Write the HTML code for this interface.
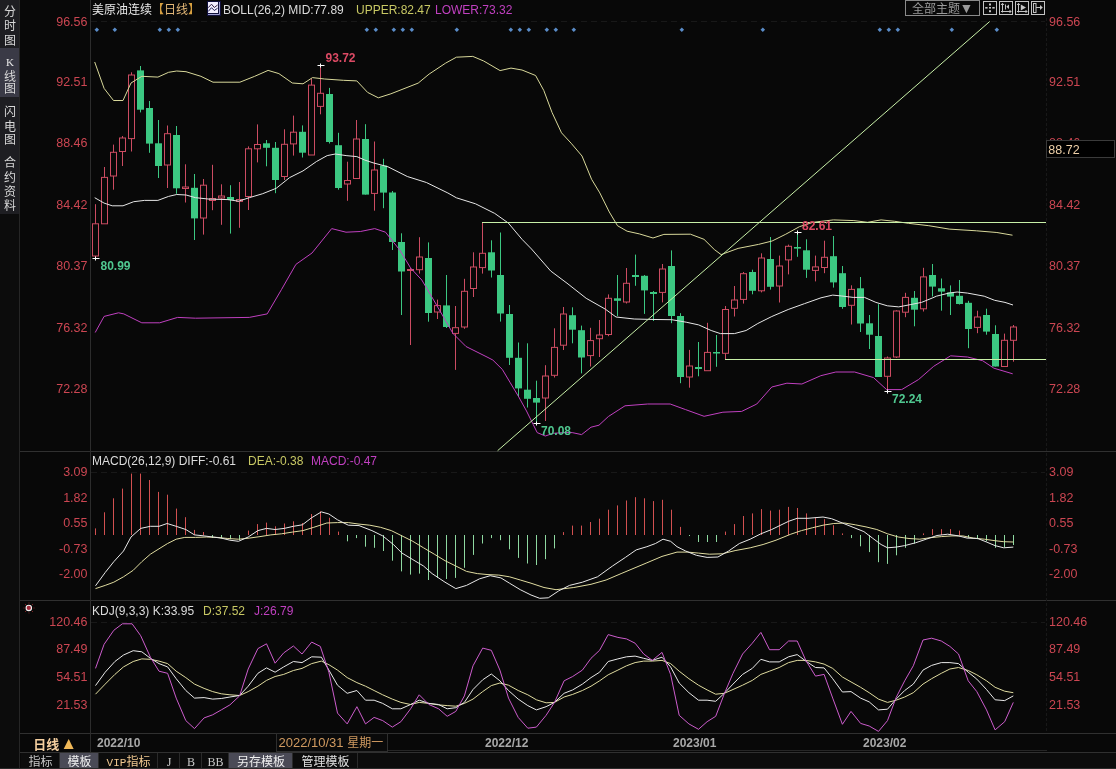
<!DOCTYPE html><html><head><meta charset="utf-8"><title>美原油连续 日线</title><style>html,body{margin:0;padding:0;background:#080808;width:1116px;height:769px;overflow:hidden}svg{display:block}text{font-family:"Liberation Sans","Noto Sans CJK SC",sans-serif}.c{font-family:"Liberation Sans","Noto Sans CJK SC","WenQuanYi Zen Hei",sans-serif}.s{font-family:"Liberation Serif",serif}.m{font-family:"Liberation Mono",monospace}</style></head><body>
<svg width="1116" height="769" viewBox="0 0 1116 769">
<rect x="0" y="0" width="1116" height="769" fill="#080808"/>
<rect x="0" y="0" width="20" height="214" fill="#1e1e22"/>
<rect x="0" y="48" width="20" height="49" fill="#3a3a46"/>
<rect x="0" y="214" width="20" height="555" fill="#0c0c0c"/>
<line x1="19.5" y1="0" x2="19.5" y2="769" stroke="#262626" stroke-width="1"/>
<text class="c" x="10" y="15.7" font-size="12" fill="#d8d8d8" text-anchor="middle">分</text>
<text class="c" x="10" y="30.4" font-size="12" fill="#d8d8d8" text-anchor="middle">时</text>
<text class="c" x="10" y="45.1" font-size="12" fill="#d8d8d8" text-anchor="middle">图</text>
<text x="10" y="66" font-size="11" fill="#e8e8e8" text-anchor="middle" class="s">K</text>
<text class="c" x="10" y="80.5" font-size="12" fill="#d8d8d8" text-anchor="middle">线</text>
<text class="c" x="10" y="93.4" font-size="12" fill="#d8d8d8" text-anchor="middle">图</text>
<text class="c" x="10" y="115.7" font-size="12" fill="#d8d8d8" text-anchor="middle">闪</text>
<text class="c" x="10" y="130.5" font-size="12" fill="#d8d8d8" text-anchor="middle">电</text>
<text class="c" x="10" y="144.2" font-size="12" fill="#d8d8d8" text-anchor="middle">图</text>
<text class="c" x="10" y="167.2" font-size="12" fill="#d8d8d8" text-anchor="middle">合</text>
<text class="c" x="10" y="181.7" font-size="12" fill="#d8d8d8" text-anchor="middle">约</text>
<text class="c" x="10" y="195.7" font-size="12" fill="#d8d8d8" text-anchor="middle">资</text>
<text class="c" x="10" y="210.2" font-size="12" fill="#d8d8d8" text-anchor="middle">料</text>
<line x1="20" y1="451.5" x2="1116" y2="451.5" stroke="#303030"/>
<line x1="20" y1="600.5" x2="1116" y2="600.5" stroke="#303030"/>
<line x1="20" y1="733.5" x2="1116" y2="733.5" stroke="#303030"/>
<line x1="20" y1="752.5" x2="1116" y2="752.5" stroke="#303030"/>
<line x1="388" y1="750.5" x2="1047" y2="750.5" stroke="#262626"/>
<line x1="90.5" y1="0" x2="90.5" y2="752" stroke="#2c2c2c"/>
<line x1="1046.5" y1="18" x2="1046.5" y2="733" stroke="#181818" stroke-dasharray="3,2"/>
<line x1="91" y1="21.5" x2="1045" y2="21.5" stroke="#181818" stroke-dasharray="6,4"/>
<line x1="91" y1="472.5" x2="1045" y2="472.5" stroke="#181818" stroke-dasharray="6,4"/>
<line x1="91" y1="622.5" x2="1045" y2="622.5" stroke="#181818" stroke-dasharray="6,4"/>
<text x="87.5" y="25.6" font-size="12.5" fill="#cc4652" text-anchor="end">96.56</text>
<text x="1049" y="25.6" font-size="12.5" fill="#cc4652" text-anchor="start">96.56</text>
<text x="87.5" y="86.4" font-size="12.5" fill="#cc4652" text-anchor="end">92.51</text>
<text x="1049" y="86.4" font-size="12.5" fill="#cc4652" text-anchor="start">92.51</text>
<text x="87.5" y="147.4" font-size="12.5" fill="#cc4652" text-anchor="end">88.46</text>
<text x="1049" y="147.4" font-size="12.5" fill="#cc4652" text-anchor="start">88.46</text>
<text x="87.5" y="208.9" font-size="12.5" fill="#cc4652" text-anchor="end">84.42</text>
<text x="1049" y="208.9" font-size="12.5" fill="#cc4652" text-anchor="start">84.42</text>
<text x="87.5" y="270.4" font-size="12.5" fill="#cc4652" text-anchor="end">80.37</text>
<text x="1049" y="270.4" font-size="12.5" fill="#cc4652" text-anchor="start">80.37</text>
<text x="87.5" y="331.9" font-size="12.5" fill="#cc4652" text-anchor="end">76.32</text>
<text x="1049" y="331.9" font-size="12.5" fill="#cc4652" text-anchor="start">76.32</text>
<text x="87.5" y="393.4" font-size="12.5" fill="#cc4652" text-anchor="end">72.28</text>
<text x="1049" y="393.4" font-size="12.5" fill="#cc4652" text-anchor="start">72.28</text>
<text x="87.5" y="476.4" font-size="12.5" fill="#cc4652" text-anchor="end">3.09</text>
<text x="1049" y="476.4" font-size="12.5" fill="#cc4652" text-anchor="start">3.09</text>
<text x="87.5" y="502.2" font-size="12.5" fill="#cc4652" text-anchor="end">1.82</text>
<text x="1049" y="502.2" font-size="12.5" fill="#cc4652" text-anchor="start">1.82</text>
<text x="87.5" y="527.4" font-size="12.5" fill="#cc4652" text-anchor="end">0.55</text>
<text x="1049" y="527.4" font-size="12.5" fill="#cc4652" text-anchor="start">0.55</text>
<text x="87.5" y="552.6999999999999" font-size="12.5" fill="#cc4652" text-anchor="end">-0.73</text>
<text x="1049" y="552.6999999999999" font-size="12.5" fill="#cc4652" text-anchor="start">-0.73</text>
<text x="87.5" y="577.9" font-size="12.5" fill="#cc4652" text-anchor="end">-2.00</text>
<text x="1049" y="577.9" font-size="12.5" fill="#cc4652" text-anchor="start">-2.00</text>
<text x="87.5" y="626.4" font-size="12.5" fill="#cc4652" text-anchor="end">120.46</text>
<text x="1049" y="626.4" font-size="12.5" fill="#cc4652" text-anchor="start">120.46</text>
<text x="87.5" y="653.4" font-size="12.5" fill="#cc4652" text-anchor="end">87.49</text>
<text x="1049" y="653.4" font-size="12.5" fill="#cc4652" text-anchor="start">87.49</text>
<text x="87.5" y="681.1" font-size="12.5" fill="#cc4652" text-anchor="end">54.51</text>
<text x="1049" y="681.1" font-size="12.5" fill="#cc4652" text-anchor="start">54.51</text>
<text x="87.5" y="708.6999999999999" font-size="12.5" fill="#cc4652" text-anchor="end">21.53</text>
<text x="1049" y="708.6999999999999" font-size="12.5" fill="#cc4652" text-anchor="start">21.53</text>
<rect x="1046.5" y="140.5" width="68" height="17" fill="#000" stroke="#3a3a3a"/>
<text x="1048.3" y="153.5" font-size="12.5" fill="#eed0a8">88.72</text>
<text class="c" x="92" y="14" font-size="12" fill="#e8e8e8">美原油连续</text>
<text class="c" x="152" y="14" font-size="12" fill="#d8a040">【</text>
<text class="c" x="164" y="14" font-size="12" fill="#e4b878">日线</text>
<text class="c" x="188" y="14" font-size="12" fill="#d8a040">】</text>
<rect x="207" y="1" width="14" height="15" fill="#10103c"/>
<rect x="208" y="2" width="10" height="11" fill="#f2eeff"/>
<polyline points="208.2,7.7 211.5,4.2 214.3,7.5 217.6,5" fill="none" stroke="#302040" stroke-width="1"/>
<polyline points="208.2,11.5 211.5,7.7 214.3,10.5 217.6,8.2" fill="none" stroke="#202050" stroke-width="1"/>
<polyline points="208,14.5 219.5,14.5 219.5,2" fill="none" stroke="#a0a0d0" stroke-width="1"/>
<text x="223" y="14" font-size="12" fill="#dcdcdc">BOLL(26,2)  MID:77.89</text>
<text x="356" y="14" font-size="12" fill="#c8c864">UPPER:82.47</text>
<text x="435" y="14" font-size="12" fill="#c040c0">LOWER:73.32</text>
<rect x="905.5" y="0.5" width="74" height="15" fill="#0a0a0a" stroke="#8a8a8a"/>
<text class="c" x="912" y="13" font-size="12" fill="#9a9a9a">全部主题</text>
<text class="c" x="959.5" y="12.8" font-size="14" fill="#9a9a9a">▼</text>
<rect x="983.5" y="1.5" width="13" height="13" fill="#0a0a0a" stroke="#c4c4c4"/>
<rect x="999.5" y="1.5" width="13" height="13" fill="#0a0a0a" stroke="#c4c4c4"/>
<rect x="1015.5" y="1.5" width="13" height="13" fill="#0a0a0a" stroke="#c4c4c4"/>
<rect x="1031.5" y="1.5" width="13" height="13" fill="#0a0a0a" stroke="#c4c4c4"/>
<rect x="989" y="3.5" width="2" height="2" fill="#c4c4c4"/>
<rect x="989" y="7" width="2" height="1.6" fill="#c4c4c4"/>
<rect x="989" y="10.2" width="2" height="2" fill="#c4c4c4"/>
<rect x="985.2" y="7" width="2.4" height="1.6" fill="#c4c4c4"/>
<rect x="992.3" y="7" width="2.4" height="1.6" fill="#c4c4c4"/>
<line x1="1002.5" y1="3.5" x2="1002.5" y2="12.5" stroke="#c4c4c4"/>
<line x1="1001" y1="11.5" x2="1011" y2="11.5" stroke="#c4c4c4"/>
<polyline points="1001,5 1002.5,3.3 1004,5" fill="none" stroke="#c4c4c4"/>
<polyline points="1009.5,10 1011,11.5 1009.5,13" fill="none" stroke="#c4c4c4"/>
<line x1="1005.5" y1="4.5" x2="1005.5" y2="9.5" stroke="#c4c4c4"/>
<polygon points="1009,4.5 1009,9 1006.3,6.8" fill="#c4c4c4"/>
<line x1="1018.5" y1="3.5" x2="1018.5" y2="12.5" stroke="#c4c4c4"/>
<line x1="1017" y1="11.5" x2="1027" y2="11.5" stroke="#c4c4c4"/>
<polyline points="1017,5 1018.5,3.3 1020,5" fill="none" stroke="#c4c4c4"/>
<polyline points="1025.5,10 1027,11.5 1025.5,13" fill="none" stroke="#c4c4c4"/>
<polygon points="1020.8,4.5 1020.8,10.4 1026,7.5" fill="#c4c4c4"/>
<rect x="1033.5" y="3.5" width="2.5" height="9" fill="none" stroke="#c4c4c4"/>
<line x1="1036" y1="7.5" x2="1042" y2="7.5" stroke="#c4c4c4"/>
<polygon points="1040,5 1042.8,7.5 1040,10" fill="#c4c4c4"/>
<rect x="95.2" y="28.2" width="3.2" height="3.2" fill="#5a8cc8" transform="rotate(45 96.8 29.8)"/>
<rect x="113.2" y="28.2" width="3.2" height="3.2" fill="#5a8cc8" transform="rotate(45 114.8 29.8)"/>
<rect x="158.2" y="28.2" width="3.2" height="3.2" fill="#5a8cc8" transform="rotate(45 159.8 29.8)"/>
<rect x="167.2" y="28.2" width="3.2" height="3.2" fill="#5a8cc8" transform="rotate(45 168.8 29.8)"/>
<rect x="176.2" y="28.2" width="3.2" height="3.2" fill="#5a8cc8" transform="rotate(45 177.8 29.8)"/>
<rect x="365.2" y="28.2" width="3.2" height="3.2" fill="#5a8cc8" transform="rotate(45 366.8 29.8)"/>
<rect x="374.2" y="28.2" width="3.2" height="3.2" fill="#5a8cc8" transform="rotate(45 375.8 29.8)"/>
<rect x="392.2" y="28.2" width="3.2" height="3.2" fill="#5a8cc8" transform="rotate(45 393.8 29.8)"/>
<rect x="401.2" y="28.2" width="3.2" height="3.2" fill="#5a8cc8" transform="rotate(45 402.8 29.8)"/>
<rect x="410.2" y="28.2" width="3.2" height="3.2" fill="#5a8cc8" transform="rotate(45 411.8 29.8)"/>
<rect x="455.2" y="28.2" width="3.2" height="3.2" fill="#5a8cc8" transform="rotate(45 456.8 29.8)"/>
<rect x="509.2" y="28.2" width="3.2" height="3.2" fill="#5a8cc8" transform="rotate(45 510.8 29.8)"/>
<rect x="518.2" y="28.2" width="3.2" height="3.2" fill="#5a8cc8" transform="rotate(45 519.8 29.8)"/>
<rect x="527.2" y="28.2" width="3.2" height="3.2" fill="#5a8cc8" transform="rotate(45 528.8 29.8)"/>
<rect x="545.2" y="28.2" width="3.2" height="3.2" fill="#5a8cc8" transform="rotate(45 546.8 29.8)"/>
<rect x="554.2" y="28.2" width="3.2" height="3.2" fill="#5a8cc8" transform="rotate(45 555.8 29.8)"/>
<rect x="572.2" y="28.2" width="3.2" height="3.2" fill="#5a8cc8" transform="rotate(45 573.8 29.8)"/>
<rect x="680.2" y="28.2" width="3.2" height="3.2" fill="#5a8cc8" transform="rotate(45 681.8 29.8)"/>
<rect x="761.2" y="28.2" width="3.2" height="3.2" fill="#5a8cc8" transform="rotate(45 762.8 29.8)"/>
<rect x="878.2" y="28.2" width="3.2" height="3.2" fill="#5a8cc8" transform="rotate(45 879.8 29.8)"/>
<rect x="887.2" y="28.2" width="3.2" height="3.2" fill="#5a8cc8" transform="rotate(45 888.8 29.8)"/>
<rect x="896.2" y="28.2" width="3.2" height="3.2" fill="#5a8cc8" transform="rotate(45 897.8 29.8)"/>
<rect x="950.2" y="28.2" width="3.2" height="3.2" fill="#5a8cc8" transform="rotate(45 951.8 29.8)"/>
<rect x="995.2" y="28.2" width="3.2" height="3.2" fill="#5a8cc8" transform="rotate(45 996.8 29.8)"/>
<line x1="95.5" y1="204.2" x2="95.5" y2="223.8" stroke="#cc4c62"/>
<line x1="95.5" y1="256.0" x2="95.5" y2="257.0" stroke="#cc4c62"/>
<rect x="92.5" y="223.8" width="6" height="32.2" fill="none" stroke="#cc4c62"/>
<line x1="104.5" y1="167.0" x2="104.5" y2="177.4" stroke="#cc4c62"/>
<rect x="101.5" y="177.4" width="6" height="46.4" fill="none" stroke="#cc4c62"/>
<line x1="113.5" y1="144.6" x2="113.5" y2="152.3" stroke="#cc4c62"/>
<line x1="113.5" y1="176.0" x2="113.5" y2="189.7" stroke="#cc4c62"/>
<rect x="110.5" y="152.3" width="6" height="23.7" fill="none" stroke="#cc4c62"/>
<line x1="122.5" y1="136.0" x2="122.5" y2="138.0" stroke="#cc4c62"/>
<line x1="122.5" y1="151.5" x2="122.5" y2="166.0" stroke="#cc4c62"/>
<rect x="119.5" y="138.0" width="6" height="13.5" fill="none" stroke="#cc4c62"/>
<line x1="131.5" y1="72.3" x2="131.5" y2="75.0" stroke="#cc4c62"/>
<line x1="131.5" y1="138.6" x2="131.5" y2="151.5" stroke="#cc4c62"/>
<rect x="128.5" y="75.0" width="6" height="63.6" fill="none" stroke="#cc4c62"/>
<line x1="140.5" y1="66.0" x2="140.5" y2="112.4" stroke="#3cc882"/>
<rect x="137.0" y="70.4" width="7" height="39.3" fill="#3cc882"/>
<line x1="149.5" y1="101.0" x2="149.5" y2="152.8" stroke="#3cc882"/>
<rect x="146.0" y="108.0" width="7" height="35.6" fill="#3cc882"/>
<line x1="158.5" y1="120.0" x2="158.5" y2="178.0" stroke="#3cc882"/>
<rect x="155.0" y="143.3" width="7" height="22.7" fill="#3cc882"/>
<line x1="167.5" y1="125.5" x2="167.5" y2="133.7" stroke="#cc4c62"/>
<line x1="167.5" y1="165.0" x2="167.5" y2="188.0" stroke="#cc4c62"/>
<rect x="164.5" y="133.7" width="6" height="31.3" fill="none" stroke="#cc4c62"/>
<line x1="176.5" y1="126.0" x2="176.5" y2="193.8" stroke="#3cc882"/>
<rect x="173.0" y="135.0" width="7" height="53.3" fill="#3cc882"/>
<line x1="185.5" y1="164.3" x2="185.5" y2="187.0" stroke="#cc4c62"/>
<line x1="185.5" y1="188.5" x2="185.5" y2="202.5" stroke="#cc4c62"/>
<rect x="182.5" y="187.0" width="6" height="1.5" fill="none" stroke="#cc4c62"/>
<line x1="194.5" y1="174.0" x2="194.5" y2="240.0" stroke="#3cc882"/>
<rect x="191.0" y="187.8" width="7" height="30.6" fill="#3cc882"/>
<line x1="203.5" y1="179.0" x2="203.5" y2="185.2" stroke="#cc4c62"/>
<line x1="203.5" y1="218.0" x2="203.5" y2="234.6" stroke="#cc4c62"/>
<rect x="200.5" y="185.2" width="6" height="32.8" fill="none" stroke="#cc4c62"/>
<line x1="212.5" y1="164.8" x2="212.5" y2="198.5" stroke="#cc4c62"/>
<line x1="212.5" y1="200.5" x2="212.5" y2="210.2" stroke="#cc4c62"/>
<rect x="209.5" y="198.5" width="6" height="2.0" fill="none" stroke="#cc4c62"/>
<line x1="221.5" y1="184.3" x2="221.5" y2="196.0" stroke="#cc4c62"/>
<line x1="221.5" y1="198.0" x2="221.5" y2="224.8" stroke="#cc4c62"/>
<rect x="218.5" y="196.0" width="6" height="2.0" fill="none" stroke="#cc4c62"/>
<line x1="230.5" y1="185.2" x2="230.5" y2="233.6" stroke="#3cc882"/>
<rect x="227.0" y="197.0" width="7" height="3.0" fill="#3cc882"/>
<line x1="239.5" y1="182.0" x2="239.5" y2="199.5" stroke="#cc4c62"/>
<line x1="239.5" y1="201.4" x2="239.5" y2="227.8" stroke="#cc4c62"/>
<rect x="236.5" y="199.5" width="6" height="1.9" fill="none" stroke="#cc4c62"/>
<line x1="248.5" y1="146.4" x2="248.5" y2="148.8" stroke="#cc4c62"/>
<line x1="248.5" y1="196.5" x2="248.5" y2="210.0" stroke="#cc4c62"/>
<rect x="245.5" y="148.8" width="6" height="47.7" fill="none" stroke="#cc4c62"/>
<line x1="257.5" y1="124.4" x2="257.5" y2="144.5" stroke="#cc4c62"/>
<line x1="257.5" y1="148.8" x2="257.5" y2="162.4" stroke="#cc4c62"/>
<rect x="254.5" y="144.5" width="6" height="4.3" fill="none" stroke="#cc4c62"/>
<line x1="266.5" y1="140.0" x2="266.5" y2="166.3" stroke="#3cc882"/>
<rect x="263.0" y="143.3" width="7" height="4.5" fill="#3cc882"/>
<line x1="275.5" y1="142.0" x2="275.5" y2="193.2" stroke="#3cc882"/>
<rect x="272.0" y="147.8" width="7" height="32.2" fill="#3cc882"/>
<line x1="284.5" y1="129.3" x2="284.5" y2="144.3" stroke="#cc4c62"/>
<line x1="284.5" y1="176.5" x2="284.5" y2="180.0" stroke="#cc4c62"/>
<rect x="281.5" y="144.3" width="6" height="32.2" fill="none" stroke="#cc4c62"/>
<line x1="293.5" y1="115.6" x2="293.5" y2="132.2" stroke="#cc4c62"/>
<line x1="293.5" y1="143.9" x2="293.5" y2="155.6" stroke="#cc4c62"/>
<rect x="290.5" y="132.2" width="6" height="11.7" fill="none" stroke="#cc4c62"/>
<line x1="302.5" y1="125.4" x2="302.5" y2="157.5" stroke="#3cc882"/>
<rect x="299.0" y="131.8" width="7" height="20.9" fill="#3cc882"/>
<line x1="311.5" y1="78.5" x2="311.5" y2="85.1" stroke="#cc4c62"/>
<rect x="308.5" y="85.1" width="6" height="69.9" fill="none" stroke="#cc4c62"/>
<line x1="320.5" y1="64.9" x2="320.5" y2="93.3" stroke="#cc4c62"/>
<line x1="320.5" y1="106.4" x2="320.5" y2="114.3" stroke="#cc4c62"/>
<rect x="317.5" y="93.3" width="6" height="13.1" fill="none" stroke="#cc4c62"/>
<line x1="329.5" y1="87.9" x2="329.5" y2="143.5" stroke="#3cc882"/>
<rect x="326.0" y="94.0" width="7" height="48.0" fill="#3cc882"/>
<line x1="338.5" y1="132.8" x2="338.5" y2="189.7" stroke="#3cc882"/>
<rect x="335.0" y="145.2" width="7" height="42.8" fill="#3cc882"/>
<line x1="347.5" y1="161.7" x2="347.5" y2="180.5" stroke="#cc4c62"/>
<line x1="347.5" y1="184.0" x2="347.5" y2="200.8" stroke="#cc4c62"/>
<rect x="344.5" y="180.5" width="6" height="3.5" fill="none" stroke="#cc4c62"/>
<line x1="356.5" y1="120.0" x2="356.5" y2="139.0" stroke="#cc4c62"/>
<rect x="353.5" y="139.0" width="6" height="39.5" fill="none" stroke="#cc4c62"/>
<line x1="365.5" y1="124.2" x2="365.5" y2="194.6" stroke="#3cc882"/>
<rect x="362.0" y="139.0" width="7" height="55.6" fill="#3cc882"/>
<line x1="374.5" y1="141.5" x2="374.5" y2="170.0" stroke="#cc4c62"/>
<line x1="374.5" y1="193.4" x2="374.5" y2="210.7" stroke="#cc4c62"/>
<rect x="371.5" y="170.0" width="6" height="23.4" fill="none" stroke="#cc4c62"/>
<line x1="383.5" y1="158.8" x2="383.5" y2="208.2" stroke="#3cc882"/>
<rect x="380.0" y="165.5" width="7" height="27.1" fill="#3cc882"/>
<line x1="392.5" y1="191.0" x2="392.5" y2="250.0" stroke="#3cc882"/>
<rect x="389.0" y="192.5" width="7" height="49.5" fill="#3cc882"/>
<line x1="401.5" y1="233.3" x2="401.5" y2="315.0" stroke="#3cc882"/>
<rect x="398.0" y="242.0" width="7" height="29.5" fill="#3cc882"/>
<line x1="410.5" y1="268.0" x2="410.5" y2="269.5" stroke="#cc4c62"/>
<line x1="410.5" y1="270.5" x2="410.5" y2="345.0" stroke="#cc4c62"/>
<rect x="407.5" y="269.5" width="6" height="1.0" fill="none" stroke="#cc4c62"/>
<line x1="419.5" y1="237.2" x2="419.5" y2="257.0" stroke="#cc4c62"/>
<line x1="419.5" y1="269.7" x2="419.5" y2="273.6" stroke="#cc4c62"/>
<rect x="416.5" y="257.0" width="6" height="12.7" fill="none" stroke="#cc4c62"/>
<line x1="428.5" y1="242.4" x2="428.5" y2="321.7" stroke="#3cc882"/>
<rect x="425.0" y="258.0" width="7" height="55.0" fill="#3cc882"/>
<line x1="437.5" y1="299.6" x2="437.5" y2="305.6" stroke="#cc4c62"/>
<line x1="437.5" y1="312.0" x2="437.5" y2="319.0" stroke="#cc4c62"/>
<rect x="434.5" y="305.6" width="6" height="6.4" fill="none" stroke="#cc4c62"/>
<line x1="446.5" y1="275.0" x2="446.5" y2="328.0" stroke="#3cc882"/>
<rect x="443.0" y="305.4" width="7" height="21.6" fill="#3cc882"/>
<line x1="455.5" y1="306.0" x2="455.5" y2="327.7" stroke="#cc4c62"/>
<line x1="455.5" y1="333.4" x2="455.5" y2="369.9" stroke="#cc4c62"/>
<rect x="452.5" y="327.7" width="6" height="5.7" fill="none" stroke="#cc4c62"/>
<line x1="464.5" y1="278.8" x2="464.5" y2="291.3" stroke="#cc4c62"/>
<line x1="464.5" y1="327.0" x2="464.5" y2="328.8" stroke="#cc4c62"/>
<rect x="461.5" y="291.3" width="6" height="35.7" fill="none" stroke="#cc4c62"/>
<line x1="473.5" y1="252.3" x2="473.5" y2="267.0" stroke="#cc4c62"/>
<line x1="473.5" y1="288.5" x2="473.5" y2="297.0" stroke="#cc4c62"/>
<rect x="470.5" y="267.0" width="6" height="21.5" fill="none" stroke="#cc4c62"/>
<line x1="482.5" y1="222.0" x2="482.5" y2="253.3" stroke="#cc4c62"/>
<line x1="482.5" y1="267.6" x2="482.5" y2="273.6" stroke="#cc4c62"/>
<rect x="479.5" y="253.3" width="6" height="14.3" fill="none" stroke="#cc4c62"/>
<line x1="491.5" y1="240.3" x2="491.5" y2="277.5" stroke="#3cc882"/>
<rect x="488.0" y="252.3" width="7" height="18.2" fill="#3cc882"/>
<line x1="500.5" y1="232.5" x2="500.5" y2="321.6" stroke="#3cc882"/>
<rect x="497.0" y="275.0" width="7" height="38.5" fill="#3cc882"/>
<line x1="509.5" y1="305.0" x2="509.5" y2="365.0" stroke="#3cc882"/>
<rect x="506.0" y="314.0" width="7" height="43.8" fill="#3cc882"/>
<line x1="518.5" y1="342.5" x2="518.5" y2="397.0" stroke="#3cc882"/>
<rect x="515.0" y="357.8" width="7" height="30.6" fill="#3cc882"/>
<line x1="527.5" y1="343.3" x2="527.5" y2="407.5" stroke="#3cc882"/>
<rect x="524.0" y="389.7" width="7" height="9.1" fill="#3cc882"/>
<line x1="536.5" y1="380.7" x2="536.5" y2="423.5" stroke="#3cc882"/>
<rect x="533.0" y="398.0" width="7" height="4.6" fill="#3cc882"/>
<line x1="545.5" y1="365.2" x2="545.5" y2="376.0" stroke="#cc4c62"/>
<line x1="545.5" y1="398.0" x2="545.5" y2="421.0" stroke="#cc4c62"/>
<rect x="542.5" y="376.0" width="6" height="22.0" fill="none" stroke="#cc4c62"/>
<line x1="554.5" y1="328.3" x2="554.5" y2="347.4" stroke="#cc4c62"/>
<line x1="554.5" y1="375.3" x2="554.5" y2="377.5" stroke="#cc4c62"/>
<rect x="551.5" y="347.4" width="6" height="27.9" fill="none" stroke="#cc4c62"/>
<line x1="563.5" y1="307.0" x2="563.5" y2="314.0" stroke="#cc4c62"/>
<line x1="563.5" y1="345.2" x2="563.5" y2="350.0" stroke="#cc4c62"/>
<rect x="560.5" y="314.0" width="6" height="31.2" fill="none" stroke="#cc4c62"/>
<line x1="572.5" y1="307.3" x2="572.5" y2="343.3" stroke="#3cc882"/>
<rect x="569.0" y="315.2" width="7" height="14.5" fill="#3cc882"/>
<line x1="581.5" y1="325.6" x2="581.5" y2="373.4" stroke="#3cc882"/>
<rect x="578.0" y="330.2" width="7" height="27.3" fill="#3cc882"/>
<line x1="590.5" y1="327.8" x2="590.5" y2="340.6" stroke="#cc4c62"/>
<line x1="590.5" y1="355.6" x2="590.5" y2="366.5" stroke="#cc4c62"/>
<rect x="587.5" y="340.6" width="6" height="15.0" fill="none" stroke="#cc4c62"/>
<line x1="599.5" y1="320.0" x2="599.5" y2="335.0" stroke="#cc4c62"/>
<line x1="599.5" y1="338.7" x2="599.5" y2="357.0" stroke="#cc4c62"/>
<rect x="596.5" y="335.0" width="6" height="3.7" fill="none" stroke="#cc4c62"/>
<line x1="608.5" y1="294.4" x2="608.5" y2="298.3" stroke="#cc4c62"/>
<line x1="608.5" y1="334.5" x2="608.5" y2="336.2" stroke="#cc4c62"/>
<rect x="605.5" y="298.3" width="6" height="36.2" fill="none" stroke="#cc4c62"/>
<line x1="617.5" y1="275.0" x2="617.5" y2="316.0" stroke="#3cc882"/>
<rect x="614.0" y="298.3" width="7" height="2.5" fill="#3cc882"/>
<line x1="626.5" y1="268.0" x2="626.5" y2="283.3" stroke="#cc4c62"/>
<line x1="626.5" y1="302.0" x2="626.5" y2="303.5" stroke="#cc4c62"/>
<rect x="623.5" y="283.3" width="6" height="18.7" fill="none" stroke="#cc4c62"/>
<line x1="635.5" y1="254.6" x2="635.5" y2="285.8" stroke="#3cc882"/>
<rect x="632.0" y="275.0" width="7" height="2.0" fill="#3cc882"/>
<line x1="644.5" y1="275.0" x2="644.5" y2="313.9" stroke="#3cc882"/>
<rect x="641.0" y="275.8" width="7" height="14.6" fill="#3cc882"/>
<line x1="653.5" y1="291.0" x2="653.5" y2="321.0" stroke="#3cc882"/>
<rect x="650.0" y="292.0" width="7" height="2.0" fill="#3cc882"/>
<line x1="662.5" y1="264.0" x2="662.5" y2="269.0" stroke="#cc4c62"/>
<line x1="662.5" y1="292.4" x2="662.5" y2="302.4" stroke="#cc4c62"/>
<rect x="659.5" y="269.0" width="6" height="23.4" fill="none" stroke="#cc4c62"/>
<line x1="671.5" y1="250.4" x2="671.5" y2="323.2" stroke="#3cc882"/>
<rect x="668.0" y="266.0" width="7" height="50.0" fill="#3cc882"/>
<line x1="680.5" y1="313.2" x2="680.5" y2="383.2" stroke="#3cc882"/>
<rect x="677.0" y="316.0" width="7" height="61.0" fill="#3cc882"/>
<line x1="689.5" y1="349.9" x2="689.5" y2="366.0" stroke="#cc4c62"/>
<line x1="689.5" y1="377.0" x2="689.5" y2="387.7" stroke="#cc4c62"/>
<rect x="686.5" y="366.0" width="6" height="11.0" fill="none" stroke="#cc4c62"/>
<line x1="698.5" y1="342.0" x2="698.5" y2="376.3" stroke="#3cc882"/>
<rect x="695.0" y="367.0" width="7" height="2.0" fill="#3cc882"/>
<line x1="707.5" y1="322.8" x2="707.5" y2="352.4" stroke="#cc4c62"/>
<rect x="704.5" y="352.4" width="6" height="18.3" fill="none" stroke="#cc4c62"/>
<line x1="716.5" y1="335.0" x2="716.5" y2="366.8" stroke="#3cc882"/>
<rect x="713.0" y="352.0" width="7" height="1.5" fill="#3cc882"/>
<line x1="725.5" y1="306.0" x2="725.5" y2="309.5" stroke="#cc4c62"/>
<line x1="725.5" y1="353.3" x2="725.5" y2="359.8" stroke="#cc4c62"/>
<rect x="722.5" y="309.5" width="6" height="43.8" fill="none" stroke="#cc4c62"/>
<line x1="734.5" y1="286.0" x2="734.5" y2="300.0" stroke="#cc4c62"/>
<line x1="734.5" y1="308.3" x2="734.5" y2="316.5" stroke="#cc4c62"/>
<rect x="731.5" y="300.0" width="6" height="8.3" fill="none" stroke="#cc4c62"/>
<line x1="743.5" y1="272.0" x2="743.5" y2="273.7" stroke="#cc4c62"/>
<line x1="743.5" y1="299.4" x2="743.5" y2="303.6" stroke="#cc4c62"/>
<rect x="740.5" y="273.7" width="6" height="25.7" fill="none" stroke="#cc4c62"/>
<line x1="752.5" y1="269.7" x2="752.5" y2="294.3" stroke="#3cc882"/>
<rect x="749.0" y="272.0" width="7" height="18.8" fill="#3cc882"/>
<line x1="761.5" y1="253.3" x2="761.5" y2="258.0" stroke="#cc4c62"/>
<line x1="761.5" y1="290.8" x2="761.5" y2="292.4" stroke="#cc4c62"/>
<rect x="758.5" y="258.0" width="6" height="32.8" fill="none" stroke="#cc4c62"/>
<line x1="770.5" y1="237.0" x2="770.5" y2="289.6" stroke="#3cc882"/>
<rect x="767.0" y="259.0" width="7" height="27.8" fill="#3cc882"/>
<line x1="779.5" y1="255.6" x2="779.5" y2="266.0" stroke="#cc4c62"/>
<line x1="779.5" y1="286.0" x2="779.5" y2="302.5" stroke="#cc4c62"/>
<rect x="776.5" y="266.0" width="6" height="20.0" fill="none" stroke="#cc4c62"/>
<line x1="788.5" y1="244.6" x2="788.5" y2="246.3" stroke="#cc4c62"/>
<line x1="788.5" y1="259.9" x2="788.5" y2="274.4" stroke="#cc4c62"/>
<rect x="785.5" y="246.3" width="6" height="13.6" fill="none" stroke="#cc4c62"/>
<line x1="797.5" y1="232.2" x2="797.5" y2="256.8" stroke="#3cc882"/>
<rect x="794.0" y="247.0" width="7" height="1.6" fill="#3cc882"/>
<line x1="806.5" y1="239.3" x2="806.5" y2="277.9" stroke="#3cc882"/>
<rect x="803.0" y="250.3" width="7" height="19.4" fill="#3cc882"/>
<line x1="815.5" y1="255.6" x2="815.5" y2="266.9" stroke="#cc4c62"/>
<line x1="815.5" y1="270.4" x2="815.5" y2="281.4" stroke="#cc4c62"/>
<rect x="812.5" y="266.9" width="6" height="3.5" fill="none" stroke="#cc4c62"/>
<line x1="824.5" y1="240.7" x2="824.5" y2="257.3" stroke="#cc4c62"/>
<line x1="824.5" y1="267.5" x2="824.5" y2="273.2" stroke="#cc4c62"/>
<rect x="821.5" y="257.3" width="6" height="10.2" fill="none" stroke="#cc4c62"/>
<line x1="833.5" y1="236.0" x2="833.5" y2="287.6" stroke="#3cc882"/>
<rect x="830.0" y="256.2" width="7" height="26.2" fill="#3cc882"/>
<line x1="842.5" y1="266.0" x2="842.5" y2="308.8" stroke="#3cc882"/>
<rect x="839.0" y="273.2" width="7" height="33.8" fill="#3cc882"/>
<line x1="851.5" y1="285.3" x2="851.5" y2="289.4" stroke="#cc4c62"/>
<line x1="851.5" y1="305.3" x2="851.5" y2="324.5" stroke="#cc4c62"/>
<rect x="848.5" y="289.4" width="6" height="15.9" fill="none" stroke="#cc4c62"/>
<line x1="860.5" y1="277.0" x2="860.5" y2="332.0" stroke="#3cc882"/>
<rect x="857.0" y="288.3" width="7" height="35.2" fill="#3cc882"/>
<line x1="869.5" y1="315.0" x2="869.5" y2="349.0" stroke="#3cc882"/>
<rect x="866.0" y="323.3" width="7" height="11.4" fill="#3cc882"/>
<line x1="878.5" y1="304.2" x2="878.5" y2="377.0" stroke="#3cc882"/>
<rect x="875.0" y="336.0" width="7" height="41.0" fill="#3cc882"/>
<line x1="887.5" y1="356.5" x2="887.5" y2="358.0" stroke="#cc4c62"/>
<line x1="887.5" y1="376.3" x2="887.5" y2="391.6" stroke="#cc4c62"/>
<rect x="884.5" y="358.0" width="6" height="18.3" fill="none" stroke="#cc4c62"/>
<line x1="896.5" y1="310.3" x2="896.5" y2="311.0" stroke="#cc4c62"/>
<line x1="896.5" y1="357.0" x2="896.5" y2="358.0" stroke="#cc4c62"/>
<rect x="893.5" y="311.0" width="6" height="46.0" fill="none" stroke="#cc4c62"/>
<line x1="905.5" y1="292.8" x2="905.5" y2="297.4" stroke="#cc4c62"/>
<line x1="905.5" y1="312.2" x2="905.5" y2="317.2" stroke="#cc4c62"/>
<rect x="902.5" y="297.4" width="6" height="14.8" fill="none" stroke="#cc4c62"/>
<line x1="914.5" y1="291.0" x2="914.5" y2="326.3" stroke="#3cc882"/>
<rect x="911.0" y="297.8" width="7" height="11.9" fill="#3cc882"/>
<line x1="923.5" y1="267.8" x2="923.5" y2="276.9" stroke="#cc4c62"/>
<line x1="923.5" y1="308.8" x2="923.5" y2="311.5" stroke="#cc4c62"/>
<rect x="920.5" y="276.9" width="6" height="31.9" fill="none" stroke="#cc4c62"/>
<line x1="932.5" y1="264.0" x2="932.5" y2="296.5" stroke="#3cc882"/>
<rect x="929.0" y="275.0" width="7" height="11.6" fill="#3cc882"/>
<line x1="941.5" y1="278.5" x2="941.5" y2="310.7" stroke="#3cc882"/>
<rect x="938.0" y="288.3" width="7" height="3.3" fill="#3cc882"/>
<line x1="950.5" y1="285.4" x2="950.5" y2="315.0" stroke="#3cc882"/>
<rect x="947.0" y="292.4" width="7" height="4.2" fill="#3cc882"/>
<line x1="959.5" y1="280.0" x2="959.5" y2="304.5" stroke="#3cc882"/>
<rect x="956.0" y="295.8" width="7" height="8.2" fill="#3cc882"/>
<line x1="968.5" y1="300.8" x2="968.5" y2="348.2" stroke="#3cc882"/>
<rect x="965.0" y="302.8" width="7" height="26.2" fill="#3cc882"/>
<line x1="977.5" y1="310.7" x2="977.5" y2="317.0" stroke="#cc4c62"/>
<line x1="977.5" y1="327.4" x2="977.5" y2="333.2" stroke="#cc4c62"/>
<rect x="974.5" y="317.0" width="6" height="10.4" fill="none" stroke="#cc4c62"/>
<line x1="986.5" y1="308.7" x2="986.5" y2="334.7" stroke="#3cc882"/>
<rect x="983.0" y="315.0" width="7" height="16.6" fill="#3cc882"/>
<line x1="995.5" y1="325.3" x2="995.5" y2="366.5" stroke="#3cc882"/>
<rect x="992.0" y="334.0" width="7" height="32.5" fill="#3cc882"/>
<line x1="1004.5" y1="333.6" x2="1004.5" y2="340.3" stroke="#cc4c62"/>
<rect x="1001.5" y="340.3" width="6" height="26.2" fill="none" stroke="#cc4c62"/>
<line x1="1013.5" y1="325.0" x2="1013.5" y2="327.0" stroke="#cc4c62"/>
<line x1="1013.5" y1="340.3" x2="1013.5" y2="361.7" stroke="#cc4c62"/>
<rect x="1010.5" y="327.0" width="6" height="13.3" fill="none" stroke="#cc4c62"/>
<polyline points="94.7,62.0 104.1,88.4 113.5,100.5 123.0,100.5 131.0,83.0 141.8,76.3 157.9,77.1 168.6,72.3 176.7,71.0 186.0,71.7 200.9,76.3 213.0,82.2 239.9,82.2 254.7,76.3 268.1,70.4 278.9,73.6 292.3,83.0 303.0,83.8 312.5,77.6 324.6,79.0 343.4,80.3 356.8,80.9 367.6,92.4 378.3,97.8 390.9,93.8 418.2,83.1 429.1,74.1 445.5,63.2 456.4,57.2 472.8,56.4 483.7,61.0 500.1,70.6 511.0,68.1 522.0,70.0 535.6,75.5 543.8,90.5 552.0,112.4 561.5,132.8 571.1,143.2 582.0,156.0 591.6,179.3 599.8,192.9 609.3,212.0 617.5,225.7 627.1,231.2 639.4,233.9 653.0,238.0 663.9,234.4 690.4,234.2 704.0,239.3 714.3,249.5 721.1,254.6 738.1,248.4 758.5,244.4 772.1,241.0 785.8,234.2 799.4,226.7 813.0,222.3 833.4,219.9 853.9,220.6 867.5,222.3 881.1,219.9 894.7,221.3 908.3,223.3 928.8,225.7 949.2,229.1 976.4,230.8 996.9,232.5 1012.5,235.2" fill="none" stroke="#d8d89a" stroke-width="1"/>
<polyline points="95.2,332.5 104.1,316.4 118.5,312.8 123.8,313.9 141.8,322.8 159.7,322.8 177.6,317.4 195.5,318.2 249.3,317.4 267.2,313.9 281.5,289.5 295.9,264.4 312.0,253.0 331.7,228.6 346.0,232.2 360.4,231.5 374.7,228.6 385.5,232.2 399.8,250.1 410.6,268.0 421.8,280.0 434.8,302.0 453.0,333.5 466.0,346.5 487.0,357.0 492.8,360.0 502.3,369.4 510.3,382.8 518.4,396.3 526.5,411.0 533.2,424.5 537.2,432.6 545.3,436.0 553.3,433.3 564.1,432.6 572.2,432.6 581.6,434.6 591.0,427.2 599.0,425.2 608.4,416.5 625.0,405.8 647.6,404.0 670.2,404.0 685.3,409.5 704.1,416.3 722.9,412.2 741.7,411.4 756.8,404.0 771.8,387.0 786.9,383.2 801.9,384.0 820.8,375.7 835.8,372.0 854.6,372.0 873.5,377.6 886.6,389.6 901.7,389.6 918.6,379.5 933.7,366.3 950.6,355.8 967.5,357.0 982.6,360.7 993.9,368.2 1012.7,373.8" fill="none" stroke="#c040c0" stroke-width="1"/>
<polyline points="94.7,197.7 104.1,203.1 112.2,205.8 123.0,205.8 133.7,201.7 144.5,200.4 157.9,200.4 168.6,196.4 176.7,194.5 186.1,195.0 195.5,197.7 209.0,199.1 227.8,199.6 238.5,201.2 249.3,197.7 262.7,193.7 276.2,188.3 289.6,177.6 303.0,170.9 316.5,161.5 327.2,155.6 335.3,154.0 346.1,155.6 356.8,156.6 364.9,160.1 373.0,162.8 388.0,166.8 407.3,176.5 426.4,182.5 447.9,193.0 456.4,197.8 475.5,203.8 494.7,213.4 508.3,223.0 522.0,239.3 531.5,249.0 550.7,271.0 567.0,283.2 586.2,298.3 605.4,309.2 616.0,317.0 634.2,319.0 655.0,319.5 671.6,319.7 686.2,322.2 698.7,324.9 711.2,330.5 720.4,333.6 734.4,333.6 746.1,330.5 757.8,323.5 771.8,316.5 788.2,309.5 804.6,303.6 821.0,297.8 832.7,295.1 841.8,296.0 853.2,297.4 864.5,297.4 875.9,302.4 887.3,305.8 898.7,306.9 910.1,304.7 921.5,302.4 932.8,297.8 936.4,296.2 948.9,293.1 957.2,292.0 967.6,293.1 984.2,296.2 994.6,300.3 1005.0,302.4 1013.0,305.0" fill="none" stroke="#e6e6e6" stroke-width="1"/>
<line x1="482" y1="222.5" x2="1046" y2="222.5" stroke="#c8f0a8"/>
<line x1="725" y1="359.5" x2="1046" y2="359.5" stroke="#c8f0a8"/>
<line x1="497.6" y1="450.7" x2="989.7" y2="21.5" stroke="#c8f0a8"/>
<line x1="92.5" y1="258.5" x2="99.5" y2="258.5" stroke="#ffffff"/>
<line x1="95.5" y1="256.5" x2="95.5" y2="260.5" stroke="#ffffff"/>
<text x="100.5" y="270" font-size="12" fill="#50c890" text-anchor="start" font-weight="bold">80.99</text>
<line x1="317.5" y1="65.5" x2="324.5" y2="65.5" stroke="#ffffff"/>
<line x1="320.5" y1="63.5" x2="320.5" y2="67.5" stroke="#ffffff"/>
<text x="325.5" y="62" font-size="12" fill="#dc4a64" text-anchor="start" font-weight="bold">93.72</text>
<line x1="533.5" y1="423.5" x2="540.5" y2="423.5" stroke="#ffffff"/>
<line x1="536.5" y1="421.5" x2="536.5" y2="425.5" stroke="#ffffff"/>
<text x="541" y="434.5" font-size="12" fill="#50c890" text-anchor="start" font-weight="bold">70.08</text>
<line x1="794.5" y1="232.5" x2="801.5" y2="232.5" stroke="#ffffff"/>
<line x1="797.5" y1="230.5" x2="797.5" y2="234.5" stroke="#ffffff"/>
<text x="802" y="230" font-size="12" fill="#dc4a64" text-anchor="start" font-weight="bold">82.61</text>
<line x1="884.5" y1="391.5" x2="891.5" y2="391.5" stroke="#ffffff"/>
<line x1="887.5" y1="389.5" x2="887.5" y2="393.5" stroke="#ffffff"/>
<text x="892" y="403" font-size="12" fill="#50c890" text-anchor="start" font-weight="bold">72.24</text>
<text x="92" y="465" font-size="12" fill="#dcdcdc">MACD(26,12,9)  DIFF:-0.61</text>
<text x="248" y="465" font-size="12" fill="#c8c864">DEA:-0.38</text>
<text x="311" y="465" font-size="12" fill="#c040c0">MACD:-0.47</text>
<line x1="95.5" y1="528.4" x2="95.5" y2="535" stroke="#d25050"/>
<line x1="104.5" y1="512.3" x2="104.5" y2="535" stroke="#d25050"/>
<line x1="113.5" y1="498.3" x2="113.5" y2="535" stroke="#d25050"/>
<line x1="122.5" y1="488.6" x2="122.5" y2="535" stroke="#d25050"/>
<line x1="131.5" y1="473.6" x2="131.5" y2="535" stroke="#d25050"/>
<line x1="140.5" y1="473.6" x2="140.5" y2="535" stroke="#d25050"/>
<line x1="149.5" y1="480.0" x2="149.5" y2="535" stroke="#d25050"/>
<line x1="158.5" y1="491.9" x2="158.5" y2="535" stroke="#d25050"/>
<line x1="167.5" y1="494.7" x2="167.5" y2="535" stroke="#d25050"/>
<line x1="176.5" y1="508.6" x2="176.5" y2="535" stroke="#d25050"/>
<line x1="185.5" y1="517.2" x2="185.5" y2="535" stroke="#d25050"/>
<line x1="194.5" y1="529.9" x2="194.5" y2="535" stroke="#d25050"/>
<line x1="203.5" y1="532.0" x2="203.5" y2="535" stroke="#d25050"/>
<line x1="212.5" y1="535" x2="212.5" y2="538.0" stroke="#8ed8a0"/>
<line x1="221.5" y1="535" x2="221.5" y2="538.5" stroke="#8ed8a0"/>
<line x1="230.5" y1="535" x2="230.5" y2="539.2" stroke="#8ed8a0"/>
<line x1="239.5" y1="535" x2="239.5" y2="540.2" stroke="#8ed8a0"/>
<line x1="248.5" y1="530.6" x2="248.5" y2="535" stroke="#d25050"/>
<line x1="257.5" y1="524.1" x2="257.5" y2="535" stroke="#d25050"/>
<line x1="266.5" y1="522.6" x2="266.5" y2="535" stroke="#d25050"/>
<line x1="275.5" y1="526.3" x2="275.5" y2="535" stroke="#d25050"/>
<line x1="284.5" y1="523.5" x2="284.5" y2="535" stroke="#d25050"/>
<line x1="293.5" y1="521.3" x2="293.5" y2="535" stroke="#d25050"/>
<line x1="302.5" y1="523.0" x2="302.5" y2="535" stroke="#d25050"/>
<line x1="311.5" y1="514.0" x2="311.5" y2="535" stroke="#d25050"/>
<line x1="320.5" y1="511.2" x2="320.5" y2="535" stroke="#d25050"/>
<line x1="329.5" y1="517.7" x2="329.5" y2="535" stroke="#d25050"/>
<line x1="338.5" y1="531.6" x2="338.5" y2="535" stroke="#d25050"/>
<line x1="347.5" y1="535" x2="347.5" y2="541.3" stroke="#8ed8a0"/>
<line x1="356.5" y1="535" x2="356.5" y2="538.1" stroke="#8ed8a0"/>
<line x1="365.5" y1="535" x2="365.5" y2="546.7" stroke="#8ed8a0"/>
<line x1="374.5" y1="535" x2="374.5" y2="547.8" stroke="#8ed8a0"/>
<line x1="383.5" y1="535" x2="383.5" y2="551.0" stroke="#8ed8a0"/>
<line x1="392.5" y1="535" x2="392.5" y2="560.7" stroke="#8ed8a0"/>
<line x1="401.5" y1="535" x2="401.5" y2="571.4" stroke="#8ed8a0"/>
<line x1="410.5" y1="535" x2="410.5" y2="574.6" stroke="#8ed8a0"/>
<line x1="419.5" y1="535" x2="419.5" y2="573.6" stroke="#8ed8a0"/>
<line x1="428.5" y1="535" x2="428.5" y2="580.0" stroke="#8ed8a0"/>
<line x1="437.5" y1="535" x2="437.5" y2="577.9" stroke="#8ed8a0"/>
<line x1="446.5" y1="535" x2="446.5" y2="579.0" stroke="#8ed8a0"/>
<line x1="455.5" y1="535" x2="455.5" y2="577.9" stroke="#8ed8a0"/>
<line x1="464.5" y1="535" x2="464.5" y2="567.8" stroke="#8ed8a0"/>
<line x1="473.5" y1="535" x2="473.5" y2="554.9" stroke="#8ed8a0"/>
<line x1="482.5" y1="535" x2="482.5" y2="543.5" stroke="#8ed8a0"/>
<line x1="491.5" y1="535" x2="491.5" y2="538.1" stroke="#8ed8a0"/>
<line x1="500.5" y1="535" x2="500.5" y2="540.2" stroke="#8ed8a0"/>
<line x1="509.5" y1="535" x2="509.5" y2="549.3" stroke="#8ed8a0"/>
<line x1="518.5" y1="535" x2="518.5" y2="557.9" stroke="#8ed8a0"/>
<line x1="527.5" y1="535" x2="527.5" y2="563.5" stroke="#8ed8a0"/>
<line x1="536.5" y1="535" x2="536.5" y2="565.0" stroke="#8ed8a0"/>
<line x1="545.5" y1="535" x2="545.5" y2="559.2" stroke="#8ed8a0"/>
<line x1="554.5" y1="535" x2="554.5" y2="548.4" stroke="#8ed8a0"/>
<line x1="563.5" y1="532.1" x2="563.5" y2="535" stroke="#d25050"/>
<line x1="572.5" y1="525.6" x2="572.5" y2="535" stroke="#d25050"/>
<line x1="581.5" y1="525.6" x2="581.5" y2="535" stroke="#d25050"/>
<line x1="590.5" y1="522.0" x2="590.5" y2="535" stroke="#d25050"/>
<line x1="599.5" y1="518.7" x2="599.5" y2="535" stroke="#d25050"/>
<line x1="608.5" y1="509.7" x2="608.5" y2="535" stroke="#d25050"/>
<line x1="617.5" y1="505.4" x2="617.5" y2="535" stroke="#d25050"/>
<line x1="626.5" y1="500.5" x2="626.5" y2="535" stroke="#d25050"/>
<line x1="635.5" y1="497.2" x2="635.5" y2="535" stroke="#d25050"/>
<line x1="644.5" y1="498.3" x2="644.5" y2="535" stroke="#d25050"/>
<line x1="653.5" y1="501.1" x2="653.5" y2="535" stroke="#d25050"/>
<line x1="662.5" y1="499.8" x2="662.5" y2="535" stroke="#d25050"/>
<line x1="671.5" y1="509.7" x2="671.5" y2="535" stroke="#d25050"/>
<line x1="680.5" y1="526.9" x2="680.5" y2="535" stroke="#d25050"/>
<line x1="689.5" y1="535" x2="689.5" y2="536.0" stroke="#8ed8a0"/>
<line x1="698.5" y1="535" x2="698.5" y2="542.0" stroke="#8ed8a0"/>
<line x1="707.5" y1="535" x2="707.5" y2="542.0" stroke="#8ed8a0"/>
<line x1="716.5" y1="535" x2="716.5" y2="542.0" stroke="#8ed8a0"/>
<line x1="725.5" y1="531.6" x2="725.5" y2="535" stroke="#d25050"/>
<line x1="734.5" y1="524.1" x2="734.5" y2="535" stroke="#d25050"/>
<line x1="743.5" y1="516.0" x2="743.5" y2="535" stroke="#d25050"/>
<line x1="752.5" y1="513.4" x2="752.5" y2="535" stroke="#d25050"/>
<line x1="761.5" y1="509.1" x2="761.5" y2="535" stroke="#d25050"/>
<line x1="770.5" y1="510.6" x2="770.5" y2="535" stroke="#d25050"/>
<line x1="779.5" y1="509.7" x2="779.5" y2="535" stroke="#d25050"/>
<line x1="788.5" y1="506.9" x2="788.5" y2="535" stroke="#d25050"/>
<line x1="797.5" y1="508.0" x2="797.5" y2="535" stroke="#d25050"/>
<line x1="806.5" y1="513.4" x2="806.5" y2="535" stroke="#d25050"/>
<line x1="815.5" y1="517.7" x2="815.5" y2="535" stroke="#d25050"/>
<line x1="824.5" y1="519.2" x2="824.5" y2="535" stroke="#d25050"/>
<line x1="833.5" y1="525.2" x2="833.5" y2="535" stroke="#d25050"/>
<line x1="842.5" y1="533.4" x2="842.5" y2="535" stroke="#d25050"/>
<line x1="851.5" y1="535" x2="851.5" y2="538.1" stroke="#8ed8a0"/>
<line x1="860.5" y1="535" x2="860.5" y2="546.3" stroke="#8ed8a0"/>
<line x1="869.5" y1="535" x2="869.5" y2="552.1" stroke="#8ed8a0"/>
<line x1="878.5" y1="535" x2="878.5" y2="562.2" stroke="#8ed8a0"/>
<line x1="887.5" y1="535" x2="887.5" y2="563.9" stroke="#8ed8a0"/>
<line x1="896.5" y1="535" x2="896.5" y2="555.3" stroke="#8ed8a0"/>
<line x1="905.5" y1="535" x2="905.5" y2="547.8" stroke="#8ed8a0"/>
<line x1="914.5" y1="535" x2="914.5" y2="543.5" stroke="#8ed8a0"/>
<line x1="923.5" y1="533.4" x2="923.5" y2="535" stroke="#d25050"/>
<line x1="932.5" y1="529.1" x2="932.5" y2="535" stroke="#d25050"/>
<line x1="941.5" y1="529.1" x2="941.5" y2="535" stroke="#d25050"/>
<line x1="950.5" y1="529.1" x2="950.5" y2="535" stroke="#d25050"/>
<line x1="959.5" y1="530.6" x2="959.5" y2="535" stroke="#d25050"/>
<line x1="968.5" y1="535" x2="968.5" y2="537.7" stroke="#8ed8a0"/>
<line x1="977.5" y1="535" x2="977.5" y2="539.2" stroke="#8ed8a0"/>
<line x1="986.5" y1="535" x2="986.5" y2="541.3" stroke="#8ed8a0"/>
<line x1="995.5" y1="535" x2="995.5" y2="547.8" stroke="#8ed8a0"/>
<line x1="1004.5" y1="535" x2="1004.5" y2="547.1" stroke="#8ed8a0"/>
<line x1="1013.5" y1="535" x2="1013.5" y2="545.0" stroke="#8ed8a0"/>
<polyline points="95.5,588.6 105.2,585.4 113.8,582.2 123.5,576.8 133.2,570.3 141.8,561.7 150.4,554.2 159.0,548.8 167.6,543.5 176.2,539.2 184.8,537.4 195.5,537.4 206.3,537.0 217.0,537.4 227.8,538.5 238.5,539.2 249.3,538.1 260.0,536.6 270.8,534.9 281.5,533.8 292.3,532.1 303.0,530.6 313.8,527.3 326.8,523.0 337.5,522.6 348.3,522.6 359.0,524.1 369.8,525.2 380.5,527.3 391.3,530.6 402.0,535.9 412.8,541.3 423.5,547.8 434.3,554.2 445.0,560.7 455.8,566.0 466.5,571.4 477.3,573.6 488.0,574.6 498.8,575.1 509.5,576.8 520.3,580.0 531.0,583.2 544.0,587.5 556.0,589.7 573.8,587.5 591.0,584.3 606.1,580.0 621.1,573.6 634.0,568.2 646.9,562.8 662.0,556.4 677.0,552.1 687.8,552.1 698.5,553.1 709.3,554.2 722.2,553.8 735.1,550.6 750.2,547.8 763.1,544.5 776.0,540.2 790.8,534.2 801.5,530.6 812.3,527.8 823.0,525.2 833.8,523.5 844.5,523.0 855.3,524.8 866.0,526.9 876.8,529.5 887.5,533.8 898.3,537.0 909.0,538.5 919.8,539.2 930.5,537.7 941.3,536.6 952.0,535.9 962.8,535.9 973.5,538.1 984.3,539.2 995.0,540.7 1003.7,541.7 1013.3,542.0" fill="none" stroke="#e0dca0"/>
<polyline points="95.5,585.8 105.2,572.5 113.8,561.7 123.5,551.0 131.0,537.0 140.7,528.4 150.4,526.3 159.0,526.3 167.1,523.5 176.2,526.3 185.8,529.5 194.5,534.9 204.1,535.9 212.7,537.0 221.3,538.1 229.9,540.2 238.5,541.3 248.2,537.0 257.9,530.6 266.5,528.4 275.1,529.5 284.3,528.4 293.4,526.3 302.4,524.8 311.7,517.7 321.4,511.9 328.9,514.0 337.5,519.8 348.3,525.2 359.0,525.6 371.9,530.6 382.7,535.9 393.4,544.5 402.0,553.1 412.8,559.6 423.5,566.0 432.1,573.6 445.0,582.2 455.8,588.6 466.5,585.4 479.4,578.9 490.2,575.7 500.9,577.9 509.5,583.2 520.3,589.7 531.0,595.0 539.7,598.3 548.3,597.8 558.8,590.8 569.5,585.4 582.4,582.2 597.5,576.8 612.5,566.0 625.4,557.4 636.2,549.9 646.9,546.7 655.5,543.5 663.0,539.2 670.6,541.3 677.0,546.7 685.6,551.0 696.4,555.3 707.1,557.4 717.9,557.0 728.6,551.0 739.4,543.5 750.2,539.2 760.9,533.8 771.7,529.5 788.6,521.3 797.2,518.3 808.0,518.3 823.0,517.0 831.6,518.7 842.4,523.0 853.1,527.3 863.9,531.6 872.5,538.1 881.1,544.5 887.5,547.8 896.1,547.1 904.7,545.6 915.5,542.8 926.2,539.2 937.0,535.5 947.7,534.2 958.5,535.9 967.1,538.1 977.8,538.5 986.5,542.0 995.0,545.6 1003.7,547.8 1013.3,547.1" fill="none" stroke="#e8e8e8"/>
<circle cx="28.8" cy="607.9" r="2.7" fill="#a02838" stroke="#f4f0f0" stroke-width="1.1"/>
<rect x="33.5" y="607.5" width="1" height="1" fill="#7a2020"/>
<rect x="32.0" y="611.0" width="1" height="1" fill="#7a2020"/>
<rect x="28.5" y="612.5" width="1" height="1" fill="#7a2020"/>
<rect x="25.0" y="611.0" width="1" height="1" fill="#7a2020"/>
<rect x="23.5" y="607.5" width="1" height="1" fill="#7a2020"/>
<rect x="25.0" y="604.0" width="1" height="1" fill="#7a2020"/>
<rect x="28.5" y="602.5" width="1" height="1" fill="#7a2020"/>
<rect x="32.0" y="604.0" width="1" height="1" fill="#7a2020"/>
<text x="92" y="615" font-size="12" fill="#dcdcdc">KDJ(9,3,3)  K:33.95</text>
<text x="203" y="615" font-size="12" fill="#c8c864">D:37.52</text>
<text x="254" y="615" font-size="12" fill="#c040c0">J:26.79</text>
<polyline points="95.5,694.2 105.2,684.1 114.9,674.4 123.5,666.9 133.2,661.5 141.8,658.9 150.4,659.3 159.0,661.1 167.6,663.6 176.2,671.2 185.8,677.6 194.5,684.1 204.1,688.4 212.7,691.6 221.3,693.8 229.9,694.8 239.6,695.5 248.2,691.6 257.9,686.2 266.5,680.4 275.1,676.5 283.7,674.4 293.4,670.5 302.0,668.4 311.7,663.6 321.4,661.1 328.9,664.7 337.5,670.1 347.2,677.6 356.9,682.6 365.5,686.2 374.1,690.5 382.7,694.8 392.3,699.1 400.9,702.4 410.6,704.5 419.2,702.4 428.9,703.4 438.6,704.9 447.2,705.6 455.8,706.2 464.4,703.4 473.0,699.1 482.7,691.6 491.3,685.6 499.9,683.0 508.5,685.2 518.2,690.5 527.8,694.8 536.4,699.8 546.1,702.8 554.5,702.4 564.1,697.0 572.7,694.4 582.4,690.5 591.0,686.2 599.6,680.8 608.2,674.8 617.9,670.1 626.5,665.8 635.1,662.6 643.7,661.1 652.3,661.1 662.0,660.4 670.6,663.6 679.2,671.2 688.9,678.7 698.5,685.2 707.1,689.9 715.7,694.2 724.3,693.3 733.0,689.5 742.6,685.2 752.3,680.4 760.9,674.4 769.5,671.2 779.2,667.5 788.6,662.6 797.2,660.4 805.8,660.4 815.5,661.9 824.1,664.1 832.7,668.4 842.4,677.0 851.0,681.9 860.6,687.3 869.2,692.7 878.5,699.1 887.5,702.4 896.1,700.2 904.7,697.0 913.3,692.7 923.0,684.1 931.6,678.7 941.3,673.3 949.9,669.0 958.5,667.5 968.2,670.5 976.8,674.8 986.5,680.8 995.1,687.3 1004.7,691.2 1013.3,692.7" fill="none" stroke="#e0dca0"/>
<polyline points="95.5,685.6 105.2,672.2 114.9,661.5 123.5,655.0 133.2,650.7 141.8,651.8 150.4,658.3 159.0,663.6 167.6,666.9 176.2,678.7 185.8,690.5 194.5,698.1 204.1,697.6 212.7,699.1 221.3,698.5 229.9,697.0 239.6,695.5 248.2,686.2 257.9,673.3 266.5,667.9 275.1,672.2 283.7,666.9 293.4,661.5 302.0,662.6 311.7,656.8 321.4,657.2 328.9,670.1 337.5,685.2 347.2,693.3 356.9,690.5 365.5,700.2 374.1,700.2 382.7,703.4 392.3,708.8 400.9,708.8 410.6,704.5 419.2,700.2 428.9,703.4 438.6,704.5 447.2,708.8 455.8,707.7 464.4,702.4 473.0,689.5 482.7,679.8 491.3,674.0 499.9,680.8 508.5,690.5 518.2,699.1 527.8,705.6 536.4,709.9 546.1,706.7 554.5,702.4 564.1,693.3 572.7,689.9 582.4,684.1 591.0,677.6 599.6,672.2 608.2,661.5 617.9,658.9 626.5,656.8 635.1,656.1 643.7,658.3 652.3,660.4 662.0,657.2 670.6,666.9 679.2,683.0 688.9,692.7 698.5,700.2 707.1,700.2 715.7,701.3 724.3,693.3 733.0,684.1 742.6,674.4 752.3,668.4 760.9,659.3 769.5,661.9 779.2,661.9 788.6,656.8 797.2,654.6 805.8,661.1 815.5,667.5 824.1,667.9 832.7,678.7 842.4,692.0 851.0,691.6 860.6,698.1 869.2,701.9 878.5,709.9 887.5,709.2 896.1,699.1 904.7,690.5 913.3,684.1 923.0,670.1 931.6,665.4 941.3,662.6 949.9,662.6 958.5,663.6 968.2,672.2 976.8,679.1 986.5,689.5 995.1,699.8 1004.7,700.6 1013.3,695.9" fill="none" stroke="#e8e8e8"/>
<polyline points="95.5,668.4 104.1,644.3 113.8,630.3 122.4,623.8 132.1,623.8 140.7,635.7 150.4,657.2 159.0,671.2 167.6,673.3 176.2,698.1 185.8,720.6 194.5,728.6 204.1,717.9 212.7,714.8 221.3,709.9 229.9,704.9 239.6,695.9 248.2,669.0 257.9,648.6 266.5,643.8 275.1,663.2 283.7,652.9 293.4,646.0 302.0,654.0 311.7,642.1 320.3,646.4 328.9,672.2 337.5,713.1 347.2,723.9 356.9,706.7 365.5,723.9 374.1,717.4 382.7,720.6 392.3,727.1 400.9,721.7 410.6,708.8 419.2,694.8 428.9,704.5 438.6,708.8 447.2,716.3 455.8,711.4 464.4,695.9 473.0,665.8 482.7,648.1 491.3,650.3 499.9,670.1 508.5,698.1 518.2,717.4 527.8,728.2 536.4,727.1 546.1,715.3 554.5,702.4 564.1,680.8 572.7,676.5 582.4,670.1 591.0,658.3 599.6,650.3 608.2,634.6 617.9,637.4 626.5,638.9 635.1,643.2 643.7,654.0 652.3,660.4 662.0,652.4 670.6,674.4 679.2,715.3 688.9,723.9 698.5,729.3 707.1,721.7 715.7,716.3 724.3,693.8 733.0,673.3 742.6,654.0 752.3,643.2 760.9,632.4 769.5,649.7 779.2,649.7 788.6,641.0 797.2,641.0 805.8,660.4 815.5,676.1 824.1,674.4 832.7,698.1 842.4,724.3 851.0,711.4 860.6,723.4 869.2,726.0 878.5,731.4 887.5,720.6 896.1,697.6 904.7,680.8 913.3,665.8 923.0,640.0 931.6,638.2 941.3,641.0 949.9,646.4 958.5,654.0 968.2,680.8 976.8,691.6 986.5,709.9 995.1,729.9 1004.7,721.7 1013.3,702.4" fill="none" stroke="#cc5ccc"/>
<text class="c" x="33.3" y="749" font-size="13" font-weight="bold" fill="#f6d0a0">日线</text>
<text class="c" x="60.2" y="749.2" font-size="17" fill="#f0b858">▲</text>
<text x="97" y="746.5" font-size="12" font-weight="bold" fill="#a8a8a8">2022/10</text>
<text x="485" y="746.5" font-size="12" font-weight="bold" fill="#a8a8a8">2022/12</text>
<text x="673" y="746.5" font-size="12" font-weight="bold" fill="#a8a8a8">2023/01</text>
<text x="863" y="746.5" font-size="12" font-weight="bold" fill="#a8a8a8">2023/02</text>
<rect x="276.5" y="733.5" width="111" height="18" fill="#0a0a0a" stroke="#2e2e2e"/>
<text x="278.5" y="746.5" font-size="13" fill="#d09a60">2022/10/31 <tspan class="c" font-size="12">星期一</tspan></text>
<rect x="21" y="753" width="1095" height="16" fill="#0c0c0c"/>
<line x1="59.5" y1="753" x2="59.5" y2="769" stroke="#2a2a2a"/>
<text class="c" x="40.5" y="766" font-size="12" fill="#c8c8c8" text-anchor="middle">指标</text>
<rect x="60" y="753" width="39" height="16" fill="#4a4a56"/>
<line x1="98.5" y1="753" x2="98.5" y2="769" stroke="#2a2a2a"/>
<text class="c" x="79.5" y="766" font-size="12" fill="#f0f0f0" text-anchor="middle">模板</text>
<line x1="157.5" y1="753" x2="157.5" y2="769" stroke="#2a2a2a"/>
<text x="128.5" y="766" font-size="12" fill="#f0c890" text-anchor="middle"><tspan class="m" font-size="11">VIP</tspan><tspan class="c">指标</tspan></text>
<line x1="179.5" y1="753" x2="179.5" y2="769" stroke="#2a2a2a"/>
<text x="169.0" y="766" font-size="12" fill="#c8c8c8" text-anchor="middle" class="s">J</text>
<line x1="201.5" y1="753" x2="201.5" y2="769" stroke="#2a2a2a"/>
<text x="191.0" y="766" font-size="12" fill="#c8c8c8" text-anchor="middle" class="s">B</text>
<line x1="228.5" y1="753" x2="228.5" y2="769" stroke="#2a2a2a"/>
<text x="215.5" y="766" font-size="12" fill="#c8c8c8" text-anchor="middle" class="s">BB</text>
<rect x="229" y="753" width="64" height="16" fill="#4a4a56"/>
<line x1="292.5" y1="753" x2="292.5" y2="769" stroke="#2a2a2a"/>
<text class="c" x="261.0" y="766" font-size="12" fill="#f0f0f0" text-anchor="middle">另存模板</text>
<line x1="357.5" y1="753" x2="357.5" y2="769" stroke="#2a2a2a"/>
<text class="c" x="325.5" y="766" font-size="12" fill="#e0e0e0" text-anchor="middle">管理模板</text>
<line x1="0" y1="768.5" x2="1116" y2="768.5" stroke="#2a2a2a"/>
</svg></body></html>
